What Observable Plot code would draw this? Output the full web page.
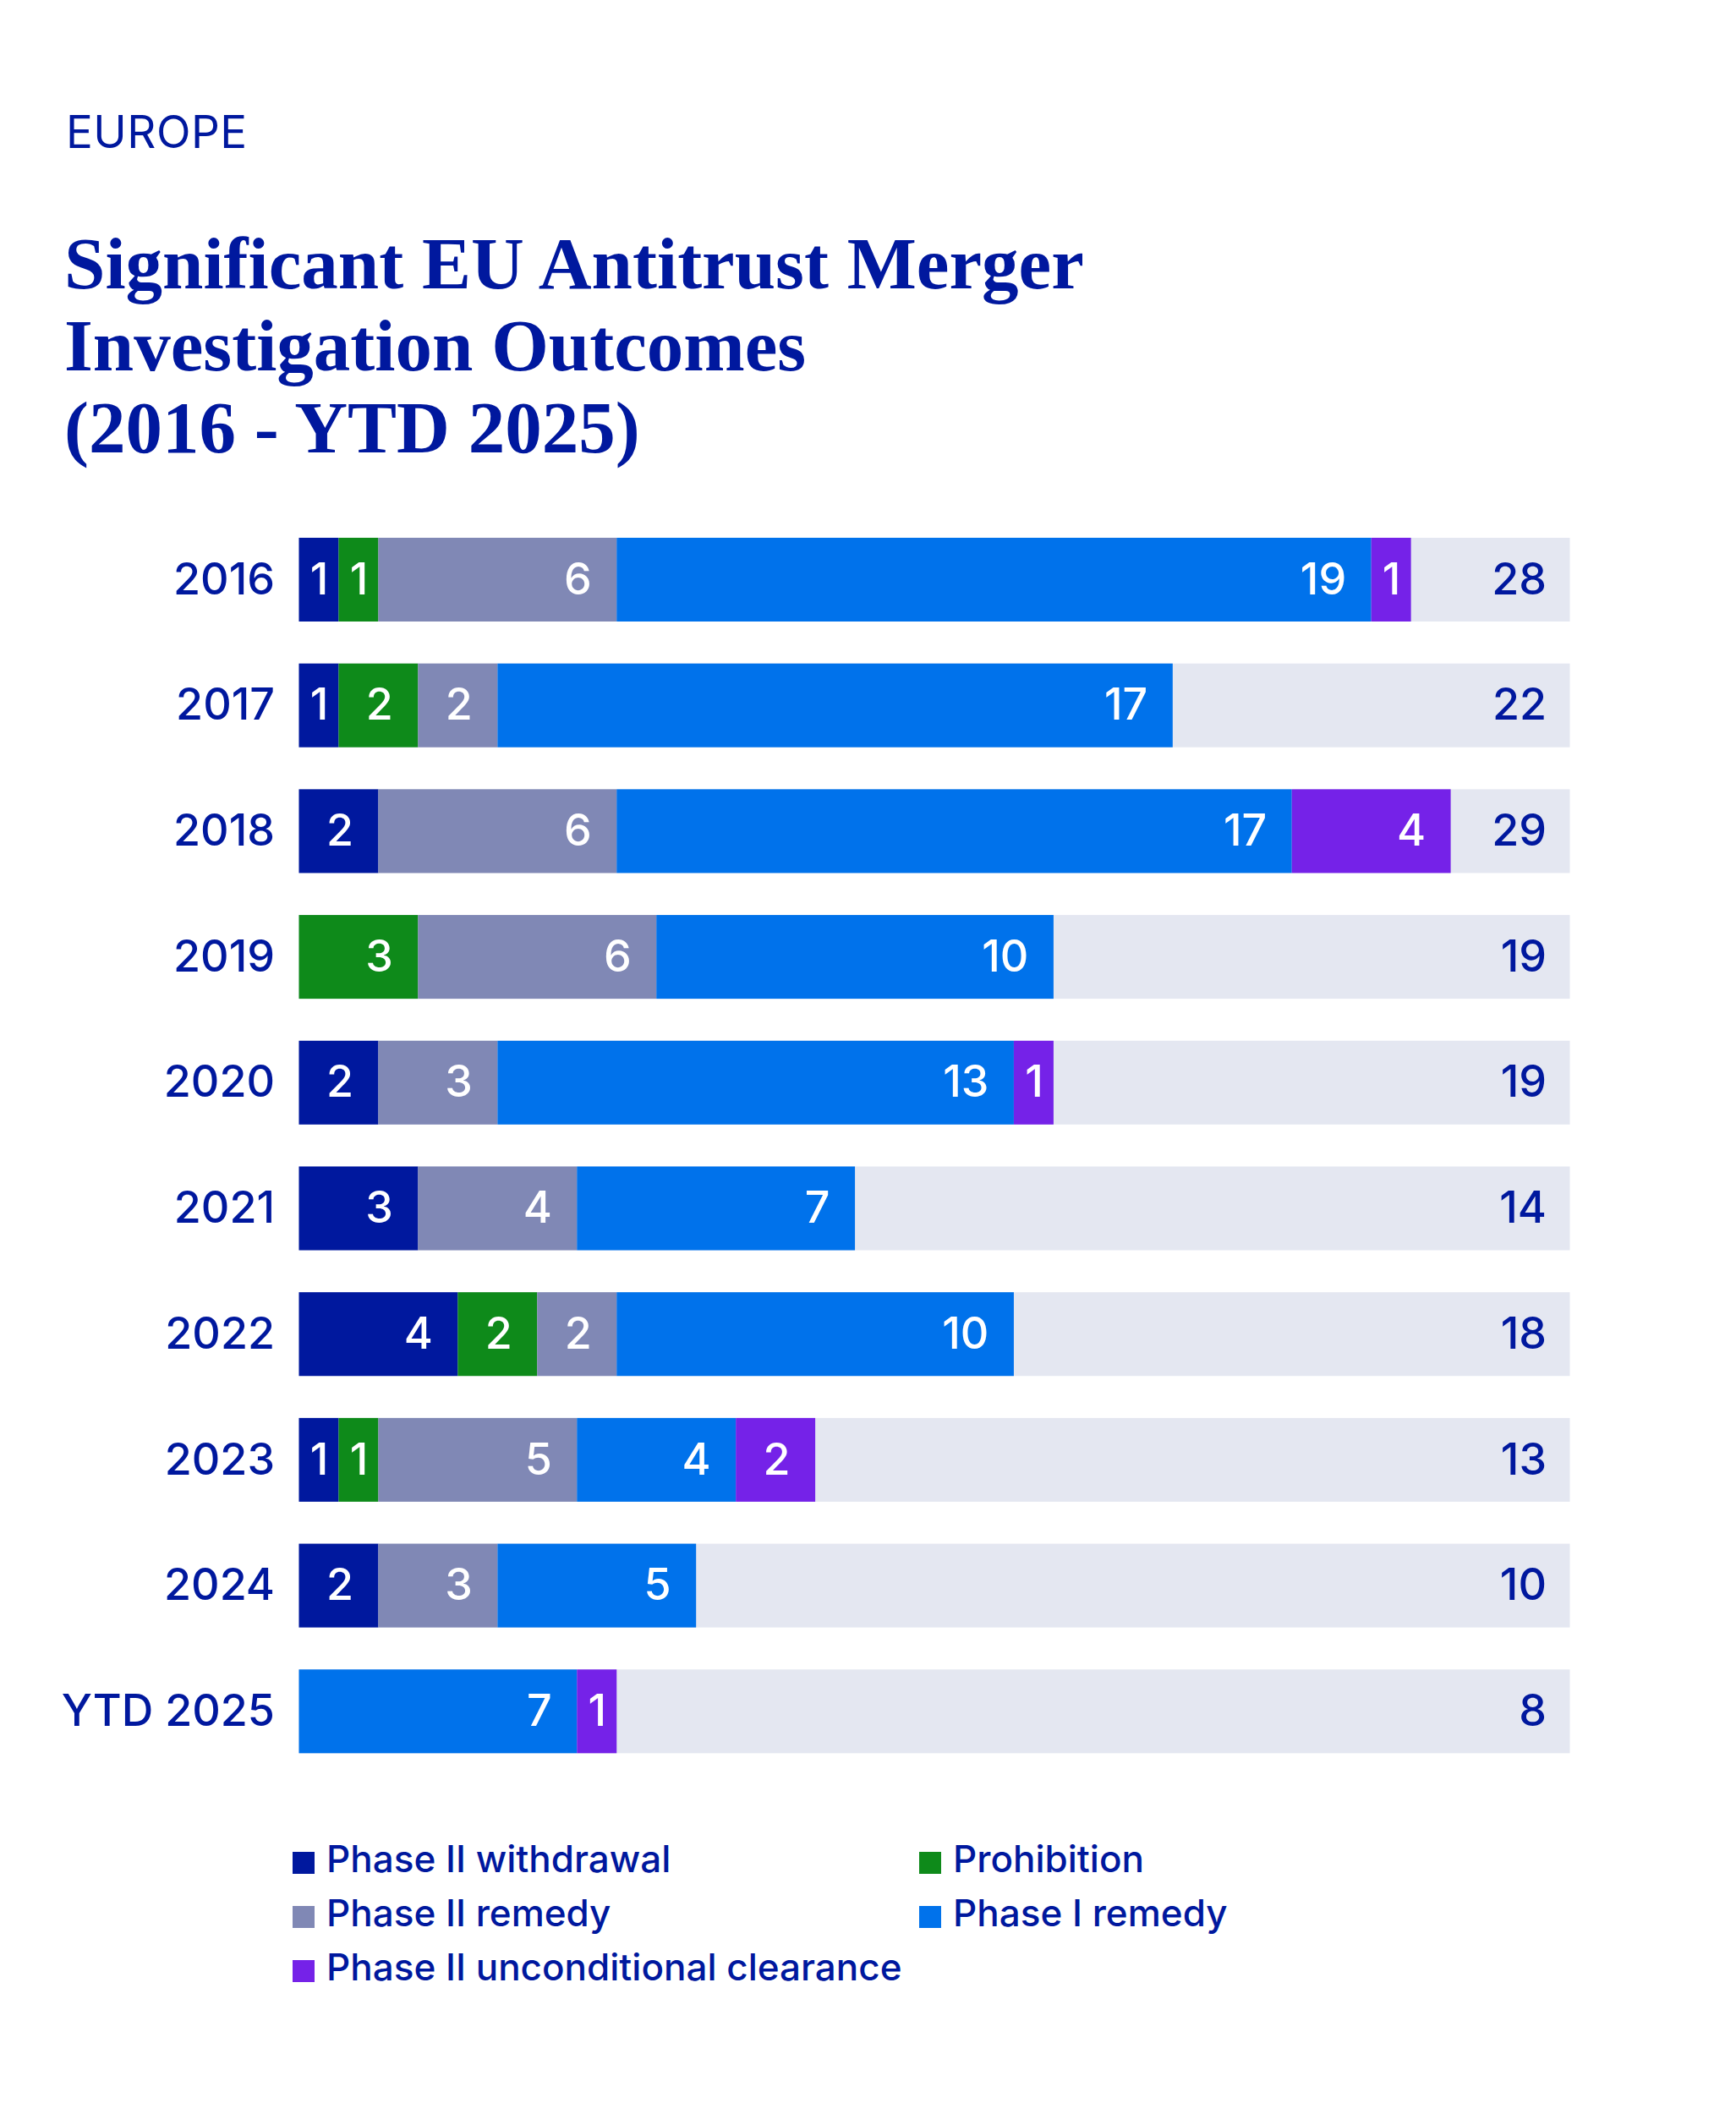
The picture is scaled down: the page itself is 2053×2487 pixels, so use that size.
<!DOCTYPE html>
<html>
<head>
<meta charset="utf-8">
<script src="https://cdn.jsdelivr.net/npm/d3@7"></script>
<script src="https://cdn.jsdelivr.net/npm/@observablehq/plot@0.6"></script>
<style>
  html, body { margin: 0; padding: 0; background: #ffffff; }
  #page { position: relative; width: 2053px; height: 2487px; background: #fff; font-family: Inter, "Noto Sans", sans-serif; color: #00189e; }
  #kicker { position: absolute; left: 78px; top: 130px; font-size: 53px; line-height: 53px; font-weight: 400; letter-spacing: 0.5px; }
  #title { position: absolute; left: 76px; top: 263px; font-family: "Liberation Serif", serif; font-weight: 700; font-size: 87px; line-height: 97px; }
  #chart { position: absolute; left: 0; top: 560px; }
  .leg { position: absolute; font-size: 44px; line-height: 44px; font-weight: 500; white-space: nowrap; }
  .sw { position: absolute; width: 26px; height: 26px; }
</style>
</head>
<body>
<div id="page">
  <div id="kicker">EUROPE</div>
  <div id="title">Significant EU Antitrust Merger<br>Investigation Outcomes<br>(2016 - YTD 2025)</div>
  <div id="chart"></div>
  <div id="legend"></div>
</div>
<script>
// ---- data ----
const years = ["2016", "2017", "2018", "2019", "2020", "2021", "2022", "2023", "2024", "YTD 2025"];
const seriesNames = ["Phase II withdrawal", "Prohibition", "Phase II remedy", "Phase I remedy", "Phase II unconditional clearance"];
const phase2Withdrawal = [1, 1, 2, 0, 2, 3, 4, 1, 2, 0];
const prohibition      = [1, 2, 0, 3, 0, 0, 2, 1, 0, 0];
const phase2Remedy     = [6, 2, 6, 6, 3, 4, 2, 5, 3, 0];
const phase1Remedy     = [19, 17, 17, 10, 13, 7, 10, 4, 5, 7];
const phase2Clearance  = [1, 0, 4, 0, 1, 0, 0, 2, 0, 1];
const totals           = [28, 22, 29, 19, 19, 14, 18, 13, 10, 8];
const xMax = 32;
const colors = ["#00189e", "#0e8a1a", "#8088b5", "#0072eb", "#7522e8"];
const navy = "#00189e";

// ---- build table ----
const seriesValues = [phase2Withdrawal, prohibition, phase2Remedy, phase1Remedy, phase2Clearance];
const rows = [];
years.forEach((y, i) => {
  let acc = 0;
  seriesNames.forEach((s, j) => {
    const v = seriesValues[j][i];
    if (v > 0) {
      rows.push({year: y, series: s, value: v, x1: acc, x2: acc + v, mid: acc + v / 2});
    }
    acc += v;
  });
});
const totalRows = years.map((y, i) => ({year: y, total: totals[i], full: xMax}));

const W = 2053, H = 1570;
const chart = Plot.plot({
  width: W,
  height: H,
  marginLeft: 353.5,
  marginRight: 196.5,
  marginTop: 26.3,
  marginBottom: 7,
  style: {fontFamily: "Inter, 'Noto Sans', sans-serif", background: "transparent"},
  x: {domain: [0, xMax], axis: null},
  y: {domain: years, padding: 0.334, round: false, label: null},
  color: {domain: seriesNames, range: colors},
  marks: [
    Plot.barX(totalRows, {x1: 0, x2: "full", y: "year", fill: "#e4e7f1"}),
    Plot.barX(rows, {x1: "x1", x2: "x2", y: "year", fill: "series"}),
    Plot.text(rows.filter(d => d.value > 1), {x: "x2", y: "year", text: d => String(d.value), textAnchor: "end", dx: -30, fill: "white", fontSize: 52, fontWeight: 500}),
    Plot.text(rows.filter(d => d.value === 1), {x: "mid", y: "year", text: d => String(d.value), textAnchor: "middle", fill: "white", fontSize: 52, fontWeight: 500}),
    Plot.text(totalRows, {x: "full", y: "year", text: d => String(d.total), textAnchor: "end", dx: -28, fill: navy, fontSize: 52, fontWeight: 500}),
    Plot.axisY({tickSize: 0, tickPadding: 29, fontSize: 52, fontWeight: 500, fill: navy, label: null})
  ]
});
document.getElementById("chart").appendChild(chart);

// ---- legend ----
const legendPos = [
  {name: seriesNames[0], col: 0, row: 0},
  {name: seriesNames[1], col: 1, row: 0},
  {name: seriesNames[2], col: 0, row: 1},
  {name: seriesNames[3], col: 1, row: 1},
  {name: seriesNames[4], col: 0, row: 2}
];
const legend = document.getElementById("legend");
const colX = [346, 1087];
legendPos.forEach(p => {
  const idx = seriesNames.indexOf(p.name);
  const sw = document.createElement("div");
  sw.className = "sw";
  sw.style.left = colX[p.col] + "px";
  sw.style.top = (2190 + p.row * 64) + "px";
  sw.style.background = colors[idx];
  legend.appendChild(sw);
  const t = document.createElement("div");
  t.className = "leg";
  t.style.left = (colX[p.col] + 40) + "px";
  t.style.top = (2176 + p.row * 64) + "px";
  t.textContent = p.name;
  legend.appendChild(t);
});
</script>
</body>
</html>
